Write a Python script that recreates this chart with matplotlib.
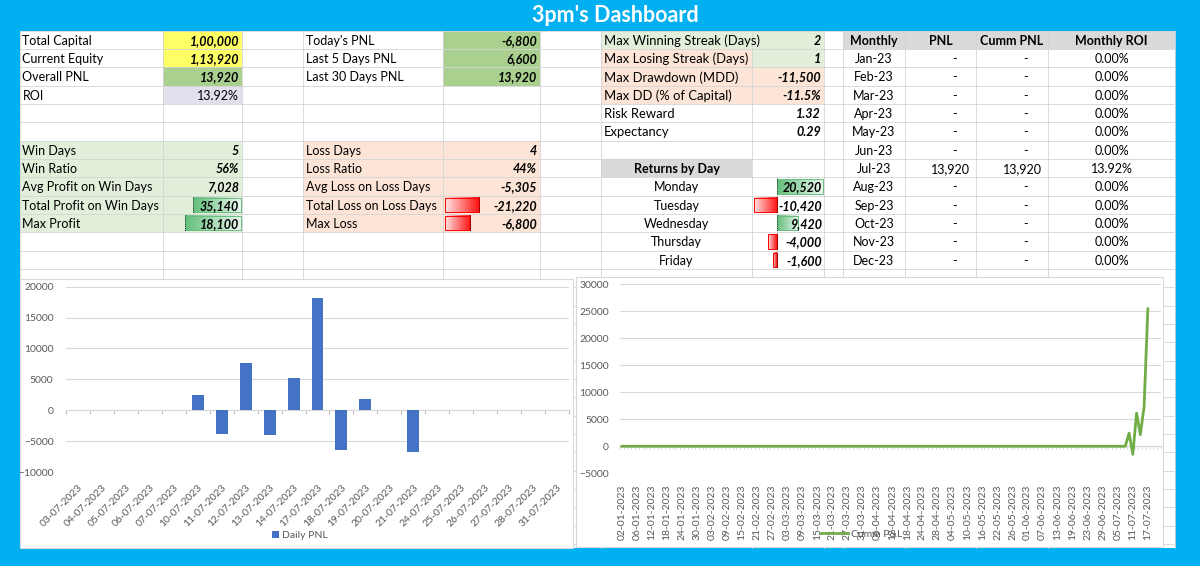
import matplotlib
matplotlib.use("Agg")
import matplotlib.pyplot as plt
from matplotlib.patches import Rectangle, Patch
from matplotlib.lines import Line2D
from matplotlib.colors import LinearSegmentedColormap
import numpy as np
import pandas as pd

plt.rcParams['font.family'] = ['Lato', 'DejaVu Sans']

# ---------------- data ----------------
title = "3pm's Dashboard"

summary_labels = ["Total Capital", "Current Equity", "Overall PNL", "ROI"]
summary_values = ["1,00,000", "1,13,920", "13,920", "13.92%"]

recent_labels = ["Today's PNL", "Last 5 Days PNL", "Last 30 Days PNL"]
recent_values = ["-6,800", "6,600", "13,920"]

win_labels = ["Win Days", "Win Ratio", "Avg Profit on Win Days",
              "Total Profit on Win Days", "Max Profit"]
win_values = ["5", "56%", "7,028", "35,140", "18,100"]
win_bar_values = [35140, 18100]          # Total Profit, Max Profit

loss_labels = ["Loss Days", "Loss Ratio", "Avg Loss on Loss Days",
               "Total Loss on Loss Days", "Max Loss"]
loss_values = ["4", "44%", "-5,305", "-21,220", "-6,800"]
loss_bar_values = [-21220, -6800]        # Total Loss, Max Loss

stats_labels = ["Max Winning Streak (Days)", "Max Losing Streak (Days)",
                "Max Drawdown (MDD)", "Max DD (% of Capital)",
                "Risk Reward", "Expectancy"]
stats_values = ["2", "1", "-11,500", "-11.5%", "1.32", "0.29"]

weekdays = ["Monday", "Tuesday", "Wednesday", "Thursday", "Friday"]
weekday_returns = [20520, -10420, 9420, -4000, -1600]

monthly_headers = ["Monthly", "PNL", "Cumm PNL", "Monthly ROI"]
months = ["Jan-23", "Feb-23", "Mar-23", "Apr-23", "May-23", "Jun-23",
          "Jul-23", "Aug-23", "Sep-23", "Oct-23", "Nov-23", "Dec-23"]
monthly_pnl = [0, 0, 0, 0, 0, 0, 13920, 0, 0, 0, 0, 0]
monthly_cum = [0, 0, 0, 0, 0, 0, 13920, 0, 0, 0, 0, 0]
monthly_roi = [0.00, 0.00, 0.00, 0.00, 0.00, 0.00, 13.92, 0.00, 0.00, 0.00, 0.00, 0.00]

daily_dates = ["03-07-2023", "04-07-2023", "05-07-2023", "06-07-2023", "07-07-2023",
               "10-07-2023", "11-07-2023", "12-07-2023", "13-07-2023", "14-07-2023",
               "17-07-2023", "18-07-2023", "19-07-2023", "20-07-2023", "21-07-2023",
               "24-07-2023", "25-07-2023", "26-07-2023", "27-07-2023", "28-07-2023",
               "31-07-2023"]
daily_pnl = [0, 0, 0, 0, 0, 2420, -3920, 7620, -4000, 5200, 18100, -6500, 1800, 0,
             -6800, 0, 0, 0, 0, 0, 0]

cum_dates = list(pd.bdate_range("2023-01-02", "2023-07-20").strftime("%d-%m-%Y"))
cum_pnl = [0] * 135 + [2420, -1500, 6120, 2120, 7320, 25420] + [np.nan] * 3

# ---------------- styles ----------------
BLUE = "#00B0F0"
YELLOW = "#FFFF66"
GREEN = "#A9D08E"
LAVENDER = "#E4DFEC"
LGREEN = "#E2EFDA"
PEACH = "#FCE4D6"
HEAD = "#D9D9D9"
GRID = "#D4D4D4"
FS = 9

W, H = 1200, 566
fig = plt.figure(figsize=(W / 100, H / 100), dpi=100)
fig.patch.set_facecolor(BLUE)
bg = fig.add_axes([0, 0, 1, 1])
bg.set_axis_off()

col_edges = [19.5, 163, 242, 303, 443, 540, 601, 752, 824, 843, 905, 976, 1048, 1175]
row0, rh = 30.7, 18.33
n_rows_total = 28
row_edges = [row0 + rh * k for k in range(n_rows_total + 1)]
white_bottom = 548

# white sheet
bg.add_patch(Rectangle((col_edges[0], row0), col_edges[-1] - col_edges[0],
                       white_bottom - row0, facecolor="white", edgecolor="none", zorder=0))


def cell_box(r, c):
    return col_edges[c], row_edges[r], col_edges[c + 1], row_edges[r + 1]


def fill(r, c, color):
    x0, y0, x1, y1 = cell_box(r, c)
    bg.add_patch(Rectangle((x0, y0), x1 - x0, y1 - y0, facecolor=color,
                           edgecolor="none", zorder=1))


def put(r, c, text, ha="left", bold=False, italic=False, pad=3.0, size=FS):
    x0, y0, x1, y1 = cell_box(r, c)
    if ha == "left":
        x = x0 + pad
    elif ha == "right":
        x = x1 - pad
    else:
        x = (x0 + x1) / 2
    bg.text(x, (y0 + y1) / 2 + 0.8, text, ha=ha, va="center", fontsize=size,
            fontweight="bold" if bold else "normal",
            fontstyle="italic" if italic else "normal", color="black", zorder=5)


green_cmap = LinearSegmentedColormap.from_list("g", ["#63BE7B", "#EAF6EE"])
red_cmap = LinearSegmentedColormap.from_list("r", ["#FFE3E3", "#FF1010"])


def databar(r, x_axis, x_end, positive):
    _, y0, _, y1 = cell_box(r, 0)
    ya, yb = y0 + 2, y1 - 2
    xa, xb = min(x_axis, x_end), max(x_axis, x_end)
    grad = np.linspace(0, 1, 64).reshape(1, -1)
    cmap = green_cmap if positive else red_cmap
    bg.imshow(grad, extent=(xa, xb, yb, ya), aspect="auto", cmap=cmap,
              interpolation="bilinear", zorder=2)
    edge = "#63BE7B" if positive else "#FF0000"
    bg.add_patch(Rectangle((xa, ya), xb - xa, yb - ya, facecolor="none",
                           edgecolor=edge, lw=0.7, zorder=3))
    bg.plot([x_axis, x_axis], [y0 + 1, y1 - 1], color="black", lw=0.6,
            ls=(0, (1, 1.5)), zorder=4)


# --- left block: summary
for i, (lab, val) in enumerate(zip(summary_labels, summary_values)):
    color = [YELLOW, YELLOW, GREEN, LAVENDER][i]
    fill(i, 1, color)
    put(i, 0, lab)
    put(i, 1, val, ha="right", bold=(i < 3), italic=(i < 3))

for i, (lab, val) in enumerate(zip(recent_labels, recent_values)):
    fill(i, 4, GREEN)
    put(i, 3, lab)
    put(i, 4, val, ha="right", bold=True, italic=True)

# win / loss blocks
win_axis_frac = [0.38, 0.28]
loss_axis_frac = [0.37, 0.28]
for i, (lab, val) in enumerate(zip(win_labels, win_values)):
    r = 6 + i
    fill(r, 0, LGREEN)
    fill(r, 1, LGREEN)
    put(r, 0, lab)
for i, (lab, val) in enumerate(zip(loss_labels, loss_values)):
    r = 6 + i
    fill(r, 3, PEACH)
    fill(r, 4, PEACH)
    put(r, 3, lab)

for k, v in enumerate(win_bar_values):
    x0, _, x1, _ = cell_box(9 + k, 1)
    xa = x0 + win_axis_frac[k] * (x1 - x0)
    databar(9 + k, xa, x1 - 1.5, v > 0)
for k, v in enumerate(loss_bar_values):
    x0, _, x1, _ = cell_box(9 + k, 4)
    xa = x0 + loss_axis_frac[k] * (x1 - x0)
    databar(9 + k, xa, x0 + 1.5, v > 0)

for i, val in enumerate(win_values):
    put(6 + i, 1, val, ha="right", bold=True, italic=True)
for i, val in enumerate(loss_values):
    put(6 + i, 4, val, ha="right", bold=True, italic=True)

# stats block
stat_label_colors = [LGREEN, PEACH, PEACH, PEACH, None, None]
stat_value_colors = [LGREEN, LGREEN, PEACH, PEACH, None, None]
for i, (lab, val) in enumerate(zip(stats_labels, stats_values)):
    if stat_label_colors[i]:
        fill(i, 6, stat_label_colors[i])
    if stat_value_colors[i]:
        fill(i, 7, stat_value_colors[i])
    put(i, 6, lab, size=FS + 0.4)
    put(i, 7, val, ha="right", bold=True, italic=True)

# returns by day
fill(7, 6, HEAD)
put(7, 6, "Returns by Day", ha="center", bold=True)
x0, _, x1, _ = cell_box(8, 7)
rmin, rmax = min(min(weekday_returns), 0), max(max(weekday_returns), 0)
scale = (x1 - x0 - 3) / (rmax - rmin)
x_axis = x0 + 1.5 - rmin * scale
for i, (d, v) in enumerate(zip(weekdays, weekday_returns)):
    r = 8 + i
    put(r, 6, d, ha="center")
    databar(r, x_axis, x_axis + v * scale, v > 0)
    put(r, 7, f"{v:,}", ha="right", bold=True, italic=True, pad=2)

# monthly table
for j, h in enumerate(monthly_headers):
    fill(0, 9 + j, HEAD)
    put(0, 9 + j, h, ha="center", bold=True)
for i, m in enumerate(months):
    r = 1 + i
    put(r, 9, m, ha="center")
    put(r, 10, f"{monthly_pnl[i]:,}" if monthly_pnl[i] else "-",
        ha="right", pad=6 if monthly_pnl[i] else 19)
    put(r, 11, f"{monthly_cum[i]:,}" if monthly_cum[i] else "-",
        ha="right", pad=6 if monthly_cum[i] else 20)
    put(r, 12, f"{monthly_roi[i]:.2f}%", ha="center")

# grid lines
for y in row_edges:
    if y <= white_bottom:
        bg.plot([col_edges[0], col_edges[-1]], [y, y], color=GRID, lw=0.6, zorder=1.5)
for x in col_edges:
    bg.plot([x, x], [row0, white_bottom], color=GRID, lw=0.6, zorder=1.5)

# title
bg.text(615, 16, title, ha="center", va="center", fontsize=15.5,
        fontweight="bold", color="white", zorder=6)

# chart frames
bg.add_patch(Rectangle((19.5, 279), 553.5, 269, facecolor="white",
                       edgecolor="#D9D9D9", lw=0.8, zorder=7))
bg.add_patch(Rectangle((575.5, 276.5), 587, 270.5, facecolor="white",
                       edgecolor="#D9D9D9", lw=0.8, zorder=7))

bg.set_xlim(0, W)
bg.set_ylim(H, 0)

TICKC = "#595959"


def fig_rect(left, top, right, bottom):
    return [left / W, 1 - bottom / H, (right - left) / W, (bottom - top) / H]


# ---- left chart: daily PNL
ax1 = fig.add_axes(fig_rect(66, 286.7, 569, 472))
ax1.set_facecolor("none")
xd = np.arange(len(daily_dates))
ax1.bar(xd, daily_pnl, width=0.5, color="#4472C4", zorder=3)
ax1.set_xlim(-0.5, len(daily_dates) - 0.5)
ax1.set_ylim(-10000, 20000)
ax1.set_yticks(np.arange(-10000, 20001, 5000))
ax1.grid(axis="y", color="#D9D9D9", lw=0.8)
ax1.set_axisbelow(True)
for s in ax1.spines.values():
    s.set_visible(False)
ax1.tick_params(axis="y", length=0, labelsize=7.5, colors=TICKC, pad=9)
ax1.set_xticks(xd)
ax1.set_xticklabels(daily_dates, rotation=45, ha="right", rotation_mode="anchor")
ax1.tick_params(axis="x", length=0, labelsize=7.5, colors=TICKC, pad=8)
sec1 = ax1.secondary_xaxis(10000 / 30000)
sec1.set_xticks(np.arange(-0.5, len(daily_dates), 1.0))
sec1.set_xticklabels([])
sec1.tick_params(axis="x", direction="out", length=3, color="#BFBFBF", width=0.8)
sec1.spines["bottom"].set_color("#BFBFBF")
sec1.spines["bottom"].set_linewidth(0.8)
for nm in ["top", "left", "right"]:
    if nm in sec1.spines:
        sec1.spines[nm].set_visible(False)
ax1.legend(handles=[Patch(facecolor="#4472C4", label="Daily PNL")],
           loc="center", bbox_to_anchor=(300 / W, 1 - 535.5 / H),
           bbox_transform=fig.transFigure, frameon=False, fontsize=7.5,
           handlelength=0.7, handleheight=0.7, handletextpad=0.3,
           labelcolor=TICKC)

# ---- right chart: cumulative P&L
ax2 = fig.add_axes(fig_rect(620, 284, 1161, 473.3))
ax2.set_facecolor("none")
xc = np.arange(len(cum_dates))
ax2.plot(xc, cum_pnl, color="#70AD47", lw=2.0, zorder=3)
ax2.set_xlim(-0.5, len(cum_dates) - 0.5)
ax2.set_ylim(-5000, 30000)
ax2.set_yticks(np.arange(-5000, 30001, 5000))
ax2.grid(axis="y", color="#D9D9D9", lw=0.8)
ax2.set_axisbelow(True)
for s in ax2.spines.values():
    s.set_visible(False)
ax2.tick_params(axis="y", length=0, labelsize=7.5, colors=TICKC, pad=8)
lab_idx = xc[:141:4]
ax2.set_xticks(lab_idx)
ax2.set_xticklabels([cum_dates[i] for i in lab_idx], rotation=90, ha="center", va="top")
ax2.tick_params(axis="x", length=0, labelsize=7.5, colors=TICKC, pad=8)
sec2 = ax2.secondary_xaxis(5000 / 35000)
sec2.set_xticks(np.arange(-0.5, len(cum_dates), 1.0))
sec2.set_xticklabels([])
sec2.tick_params(axis="x", direction="out", length=2.5, color="#D0D0D0", width=0.6)
sec2.spines["bottom"].set_color("#BFBFBF")
sec2.spines["bottom"].set_linewidth(0.8)
for nm in ["top", "left", "right"]:
    if nm in sec2.spines:
        sec2.spines[nm].set_visible(False)
ax2.legend(handles=[Line2D([], [], color="#70AD47", lw=2.0, label="Cumm P&L")],
           loc="center", bbox_to_anchor=(862 / W, 1 - 534 / H),
           bbox_transform=fig.transFigure, frameon=False, fontsize=7.5,
           handlelength=2.6, handletextpad=0.3, labelcolor=TICKC)

fig.savefig("out.png", dpi=100, facecolor=BLUE)
